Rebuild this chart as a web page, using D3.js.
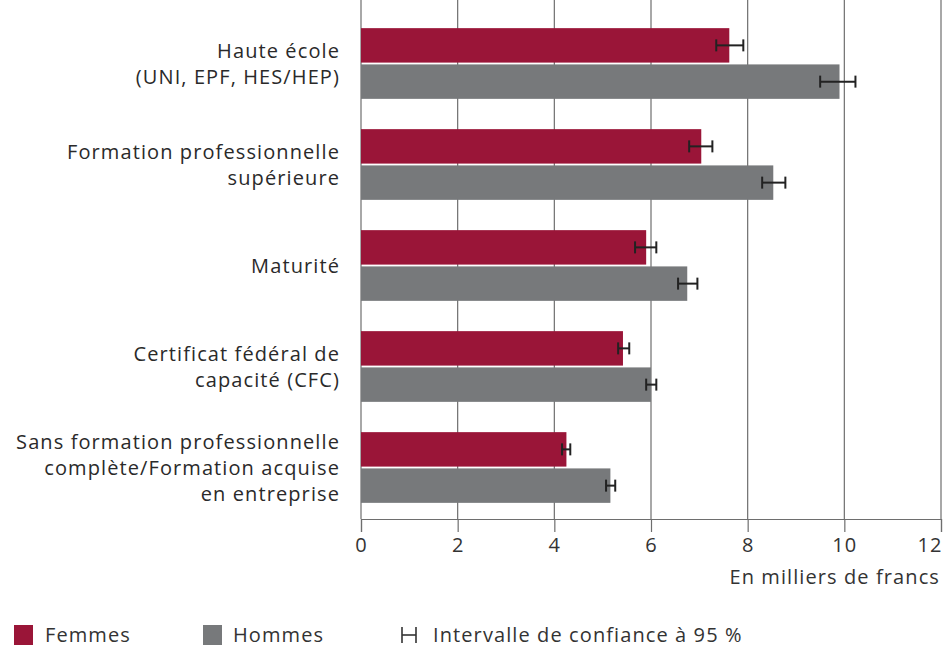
<!DOCTYPE html>
<html><head><meta charset="utf-8">
<script src="https://cdn.jsdelivr.net/npm/d3@7"></script>
<style>body{margin:0;background:#fff;} text{font-family:"Open Sans", Lato, sans-serif;}</style>
</head><body>
<svg id="c" width="947" height="647"></svg>
<script>
const categories = [
  ["Haute école", "(UNI, EPF, HES/HEP)"],
  ["Formation professionnelle", "supérieure"],
  ["Maturité"],
  ["Certificat fédéral de", "capacité (CFC)"],
  ["Sans formation professionnelle", "complète/Formation acquise", "en entreprise"]
];
const femmes = [7.62, 7.04, 5.90, 5.42, 4.25];
const femmesLow = [7.35, 6.79, 5.67, 5.32, 4.16];
const femmesHigh = [7.91, 7.27, 6.11, 5.55, 4.33];
const hommes = [9.90, 8.53, 6.75, 6.00, 5.16];
const hommesLow = [9.50, 8.30, 6.56, 5.90, 5.07];
const hommesHigh = [10.23, 8.78, 6.96, 6.11, 5.26];
const xTicks = [0, 2, 4, 6, 8, 10, 12];
const seriesNames = ["Femmes", "Hommes"];
const colors = {Femmes: "#9a1538", Hommes: "#77797b"};

const FONT = 20, LS = 1.1;
const svg = d3.select("#c");
const x = d3.scaleLinear().domain([0, 12]).range([361, 941]);
const idx = d3.range(categories.length);
const y = d3.scaleBand().domain(idx).range([13, 518]).paddingInner(0.3).paddingOuter(0.15);
const ys = d3.scaleBand().domain(seriesNames).range([0, y.bandwidth()]).paddingInner(0.05);

// gridlines
svg.append("g").selectAll("line").data(xTicks).join("line")
  .attr("x1", d => x(d)).attr("x2", d => x(d))
  .attr("y1", 0).attr("y2", 519)
  .attr("stroke", "#6e6e6e").attr("stroke-width", 1.2);

const rows = [];
idx.forEach(i => {
  rows.push({i, s: "Femmes", v: femmes[i], lo: femmesLow[i], hi: femmesHigh[i]});
  rows.push({i, s: "Hommes", v: hommes[i], lo: hommesLow[i], hi: hommesHigh[i]});
});

svg.append("g").selectAll("rect").data(rows).join("rect")
  .attr("x", x(0)).attr("y", d => y(d.i) + ys(d.s))
  .attr("width", d => x(d.v) - x(0)).attr("height", ys.bandwidth())
  .attr("fill", d => colors[d.s]);

// error bars
const eb = svg.append("g").attr("stroke", "#222").attr("stroke-width", 2);
rows.forEach(d => {
  const cy = y(d.i) + ys(d.s) + ys.bandwidth() / 2;
  eb.append("line").attr("x1", x(d.lo)).attr("x2", x(d.hi)).attr("y1", cy).attr("y2", cy);
  eb.append("line").attr("x1", x(d.lo)).attr("x2", x(d.lo)).attr("y1", cy - 6).attr("y2", cy + 6);
  eb.append("line").attr("x1", x(d.hi)).attr("x2", x(d.hi)).attr("y1", cy - 6).attr("y2", cy + 6);
});

// x axis
const ax = svg.append("g").attr("transform", "translate(0,519)")
  .call(d3.axisBottom(x).tickValues(xTicks).tickSize(13).tickPadding(6).tickFormat(d3.format("d")));
ax.select(".domain").attr("stroke", "#6e6e6e").attr("stroke-width", 1.2);
ax.selectAll(".tick line").attr("stroke", "#6e6e6e").attr("stroke-width", 1.2);
ax.selectAll(".tick text").attr("font-size", FONT).attr("fill", "#333")
  .attr("font-family", "'Open Sans', sans-serif").attr("letter-spacing", LS)
  .attr("text-anchor", d => d === 12 ? "end" : "middle")
  .attr("x", d => d === 12 ? 1 : 0);

svg.append("text").attr("x", 940).attr("y", 584).attr("text-anchor", "end")
  .attr("font-size", FONT).attr("letter-spacing", LS).attr("fill", "#333").text("En milliers de francs");

// category labels
const lh = 26;
idx.forEach(i => {
  const lines = categories[i];
  const cy = y(i) + y.bandwidth() / 2;
  const t = svg.append("text").attr("text-anchor", "end").attr("font-size", FONT)
    .attr("letter-spacing", LS).attr("fill", "#2a2a2a");
  lines.forEach((l, k) => {
    t.append("tspan").attr("x", 340)
      .attr("y", cy + (k - (lines.length - 1) / 2) * lh + 7).text(l);
  });
});

// legend
const lg = svg.append("g");
lg.append("rect").attr("x", 14).attr("y", 625).attr("width", 19).attr("height", 20).attr("fill", colors.Femmes);
lg.append("text").attr("x", 45).attr("y", 642).attr("font-size", FONT).attr("letter-spacing", LS).attr("fill", "#333").text("Femmes");
lg.append("rect").attr("x", 203).attr("y", 625).attr("width", 19).attr("height", 20).attr("fill", colors.Hommes);
lg.append("text").attr("x", 233).attr("y", 642).attr("font-size", FONT).attr("letter-spacing", LS).attr("fill", "#333").text("Hommes");
const ci = lg.append("g").attr("stroke", "#333").attr("stroke-width", 1.6);
ci.append("line").attr("x1", 402).attr("x2", 402).attr("y1", 627).attr("y2", 643);
ci.append("line").attr("x1", 416).attr("x2", 416).attr("y1", 627).attr("y2", 643);
ci.append("line").attr("x1", 402).attr("x2", 416).attr("y1", 635).attr("y2", 635);
lg.append("text").attr("x", 433).attr("y", 642).attr("font-size", FONT).attr("letter-spacing", LS).attr("fill", "#333").text("Intervalle de confiance à 95 %");
</script>
</body></html>
